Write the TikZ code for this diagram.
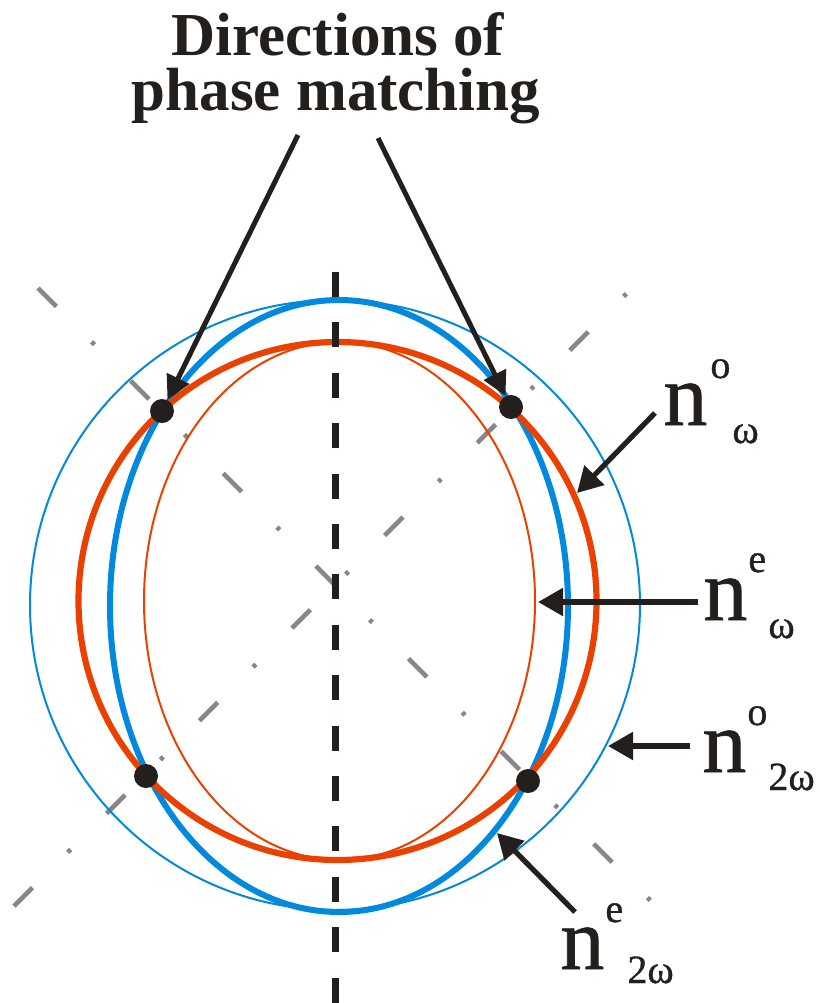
\documentclass[tikz,border=0pt]{standalone}
\usepackage{fontspec}
\setmainfont{Liberation Serif}
\newfontfamily\lblfont[FakeBold=0.8]{Liberation Serif}
\usetikzlibrary{arrows.meta}
\definecolor{cblue}{RGB}{0,137,221}
\definecolor{cred}{RGB}{234,64,0}
\definecolor{cblack}{RGB}{35,31,28}
\definecolor{cgray}{RGB}{135,135,135}
\begin{document}
\begin{tikzpicture}[x=0.5pt,y=-0.5pt,
  thickblue/.style={draw=cblue, line width=3pt},
  thinblue/.style={draw=cblue, line width=1pt},
  thickred/.style={draw=cred, line width=3.1pt},
  thinred/.style={draw=cred, line width=1pt},
  axisline/.style={draw=cblack, line width=3.5pt, dash pattern=on 12.5pt off 12.7pt},
  diagline/.style={draw=cgray, line width=2.3pt, dash pattern=on 13pt off 25pt on 2pt off 25.5pt},
  dotnode/.style={circle, fill=cblack, minimum size=12pt, inner sep=0pt},
  ptr/.style={draw=cblack, line width=2.5pt, -{Triangle[length=12pt,width=12pt]}},
  lptr/.style={draw=cblack, line width=2.6pt, -{Triangle[length=12.5pt,width=13.5pt]}},
  bigtxt/.style={font=\lblfont\fontsize{44}{44}\selectfont, inner sep=0pt, anchor=base west, text=cblack},
  smalltxt/.style={font=\lblfont\fontsize{20}{20}\selectfont, inner sep=0pt, anchor=base west, text=cblack},
  titletxt/.style={font=\bfseries\fontsize{30.5}{27.5}\selectfont, text=cblack, inner sep=0pt, anchor=base}
]
\useasboundingbox (0,0) rectangle (820,1003);

% gray diagonal dash-dot lines
\draw[diagline] (38,288) -- (652,902);
\draw[diagline] (14,906) -- (630,290);

% index curves
\draw[thinblue] (335,605) circle[radius=152.5pt];
\draw[thickblue] (339,606) ellipse[x radius=114.5pt, y radius=153pt];
\draw[thickred] (337.5,601) circle[radius=129.5pt];
\draw[thinred] (339.5,601) ellipse[x radius=97.75pt, y radius=129.5pt];

% optic axis
\draw[axisline] (335,272) -- (335,1003);

% title
\node[titletxt] (t1) at (338,55) {Directions of};
\node[titletxt] (t2) at (336,110) {phase matching};
\coordinate (s1) at (298,135);
\coordinate (s2) at (378,138);

% phase matching points
\node[dotnode] (d1) at (162,411) {};
\node[dotnode] (d2) at (511,407) {};
\node[dotnode] (d3) at (146,776) {};
\node[dotnode] (d4) at (528,781) {};

\draw[ptr] (s1) -- (d1);
\draw[ptr] (s2) -- (d2);

% labels
\node[bigtxt] (l1n) at (663,425) {n};
\node[smalltxt] (l1s) at (710,378) {o};
\node[smalltxt] (l1b) at (732,443) {ω};

\node[bigtxt] (l2n) at (703,620) {n};
\node[smalltxt] (l2s) at (748,572) {e};
\node[smalltxt] (l2b) at (768,638) {ω};

\node[bigtxt] (l3n) at (702,772) {n};
\node[smalltxt] (l3s) at (747,725) {o};
\node[smalltxt] (l3b) at (768,790) {2ω};

\node[bigtxt] (l4n) at (560,969) {n};
\node[smalltxt] (l4s) at (605,922) {e};
\node[smalltxt] (l4b) at (627,983) {2ω};

% label arrows
\coordinate (a1s) at (655,413); \coordinate (a1e) at (577,493);
\coordinate (a2s) at (698,602); \coordinate (a2e) at (538,602);
\coordinate (a3s) at (690,746); \coordinate (a3e) at (608,746);
\coordinate (a4s) at (575,912); \coordinate (a4e) at (497,833);
\draw[lptr] (a1s) -- (a1e);
\draw[lptr] (a2s) -- (a2e);
\draw[lptr] (a3s) -- (a3e);
\draw[lptr] (a4s) -- (a4e);
\end{tikzpicture}
\end{document}
